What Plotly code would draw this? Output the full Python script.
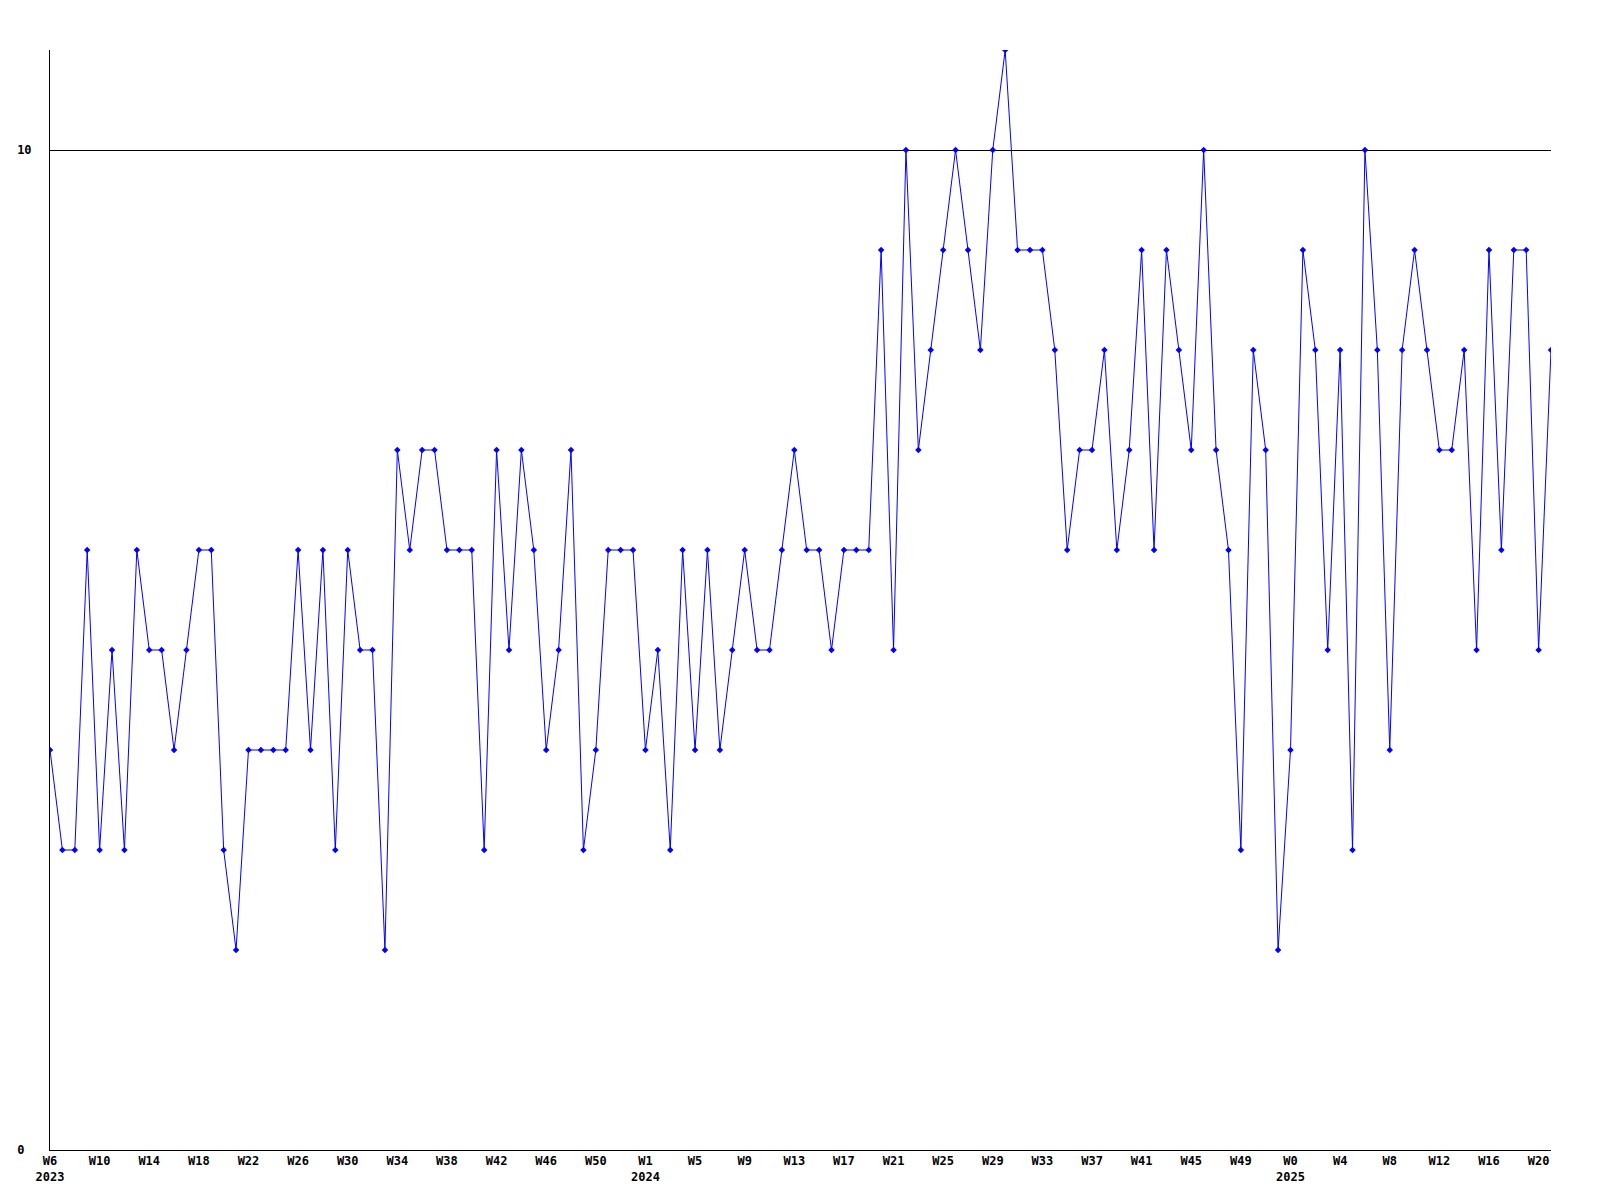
import plotly.graph_objects as go

# Weekly values, W6 2023 .. W21 2025 (122 points)
values = [
    4, 3, 3, 6, 3, 5, 3, 6, 5, 5, 4, 5, 6, 6, 3, 2, 4, 4, 4, 4,
    6, 4, 6, 3, 6, 5, 5, 2, 7, 6, 7, 7, 6, 6, 6, 3, 7, 5, 7, 6,
    4, 5, 7, 3, 4, 6, 6, 6, 4, 5, 3, 6, 4, 6, 4, 5, 6, 5, 5, 6,
    7, 6, 6, 5, 6, 6, 6, 9, 5, 10, 7, 8, 9, 10, 9, 8, 10, 11, 9, 9,
    9, 8, 6, 7, 7, 8, 6, 7, 9, 6, 9, 8, 7, 10, 7, 6, 3, 8, 7, 2,
    4, 9, 8, 5, 8, 3, 10, 8, 4, 8, 9, 8, 7, 7, 8, 5, 9, 6, 9, 9,
    5, 8,
]
x_index = list(range(len(values)))

# Tick positions (week index) and labels
tick_index = [0, 4, 8, 12, 16, 20, 24, 28, 32, 36, 40, 44,
              48, 52, 56, 60, 64, 68, 72, 76, 80, 84, 88, 92, 96,
              100, 104, 108, 112, 116, 120]
tick_labels = ["W6<br>2023", "W10", "W14", "W18", "W22", "W26", "W30", "W34",
               "W38", "W42", "W46", "W50",
               "W1<br>2024", "W5", "W9", "W13", "W17", "W21", "W25", "W29",
               "W33", "W37", "W41", "W45", "W49",
               "W0<br>2025", "W4", "W8", "W12", "W16", "W20"]

y_tick_vals = [0, 10]
y_tick_text = ["0\u00a0", "10"]

font_family = "DejaVu Sans Mono, Liberation Mono, monospace"

fig = go.Figure()
fig.add_trace(go.Scatter(
    x=x_index,
    y=values,
    mode="lines+markers",
    line=dict(color="#0000ff", width=1),
    marker=dict(symbol="diamond", size=5, color="#0000ff"),
    hoverinfo="x+y",
    showlegend=False,
))

fig.update_layout(
    width=1584,
    height=1184,
    margin=dict(l=42, r=41, t=42, b=42),
    paper_bgcolor="white",
    plot_bgcolor="white",
    font=dict(family=font_family, size=12, color="black"),
)

fig.update_xaxes(
    range=[0, 121],
    tickmode="array",
    tickvals=tick_index,
    ticktext=tick_labels,
    showgrid=False,
    zeroline=False,
    showline=True,
    linecolor="black",
    linewidth=1,
    ticks="",
    ticklabelstandoff=0,
    automargin=False,
    tickfont=dict(family=font_family, size=12, color="black", weight="bold"),
)

fig.update_yaxes(
    range=[0, 11],
    tickmode="array",
    tickvals=y_tick_vals,
    ticktext=y_tick_text,
    showgrid=True,
    gridcolor="black",
    gridwidth=1,
    zeroline=False,
    showline=True,
    linecolor="black",
    linewidth=1,
    ticks="",
    ticklabelstandoff=15,
    automargin=False,
    tickfont=dict(family=font_family, size=12, color="black", weight="bold"),
)

fig.write_html("out.html")
